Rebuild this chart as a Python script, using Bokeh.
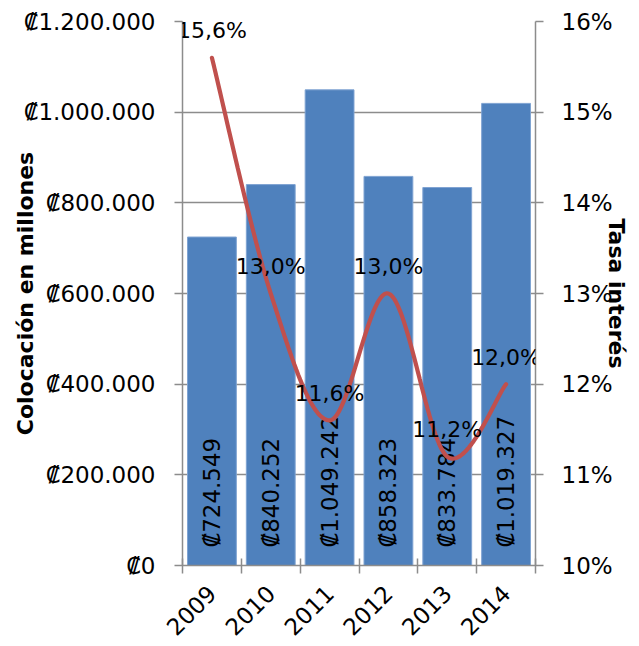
import math
from bokeh.plotting import figure
from bokeh.models import Range1d, LinearAxis, FixedTicker, ColumnDataSource, LabelSet
from bokeh.core.properties import value
from bokeh.embed import file_html
from bokeh.resources import INLINE

# ---- data ----
years = ["2009", "2010", "2011", "2012", "2013", "2014"]
colocacion = [724549, 840252, 1049242, 858323, 833784, 1019327]
tasa = [15.6, 13.0, 11.6, 13.0, 11.2, 12.0]
left_ticks = [0, 200000, 400000, 600000, 800000, 1000000, 1200000]
right_ticks = [10, 11, 12, 13, 14, 15, 16]

FONT = "DejaVu Sans"
FS = "23px"
FS_PCT = "22px"
FS_TITLE = "22px"
GRAY = "#8c8c8c"
BAR = "#4F81BD"
RED = "#C0504D"


def colon(v):
    return "\u20a1" + f"{v:,}".replace(",", ".")


def pct(v):
    return f"{v:.1f}".replace(".", ",") + "%"


xs = list(range(len(years)))

p = figure(width=639, height=646, output_backend="svg", toolbar_location=None,
           x_range=Range1d(-0.5, len(years) - 0.5), y_range=Range1d(0, 1200000),
           min_border_left=182, min_border_right=104, min_border_top=21,
           min_border_bottom=81)
p.outline_line_color = None
p.background_fill_color = "white"
p.border_fill_color = "white"
p.extra_y_ranges = {"rate": Range1d(10, 16)}

# grid
p.xgrid.visible = False
p.ygrid.ticker = FixedTicker(ticks=left_ticks)
p.ygrid.grid_line_color = GRAY
p.ygrid.grid_line_width = 1.5

# left axis
ya = p.yaxis[0]
ya.ticker = FixedTicker(ticks=left_ticks)
ya.major_label_overrides = {t: colon(t) for t in left_ticks}
ya.major_label_text_font = FONT
ya.major_label_text_font_size = FS
ya.major_label_text_color = "black"
ya.major_label_standoff = 19
ya.axis_line_color = GRAY
ya.axis_line_width = 1.5
ya.major_tick_line_color = GRAY
ya.major_tick_line_width = 1.5
ya.major_tick_in = 0
ya.major_tick_out = 8
ya.minor_tick_line_color = None
ya.axis_label = "Colocación en millones"
ya.axis_label_text_font = FONT
ya.axis_label_text_font_size = FS_TITLE
ya.axis_label_text_font_style = "bold"
ya.axis_label_text_color = "black"
ya.axis_label_standoff = -17

# right axis
ra = LinearAxis(y_range_name="rate", ticker=FixedTicker(ticks=right_ticks))
ra.major_label_overrides = {t: f"{t}%" for t in right_ticks}
ra.major_label_text_font = FONT
ra.major_label_text_font_size = FS
ra.major_label_text_color = "black"
ra.major_label_standoff = 18
ra.axis_line_color = GRAY
ra.axis_line_width = 1.5
ra.major_tick_line_color = GRAY
ra.major_tick_line_width = 1.5
ra.major_tick_in = 0
ra.major_tick_out = 8
ra.minor_tick_line_color = None
ra.axis_label = "Tasa interés"
ra.axis_label_text_font = FONT
ra.axis_label_text_font_size = FS_TITLE
ra.axis_label_text_font_style = "bold"
ra.axis_label_text_color = "black"
ra.axis_label_standoff = -12
p.add_layout(ra, "right")

# x axis: labels at category centres, tick marks at category boundaries
xa = p.xaxis[0]
xa.ticker = FixedTicker(ticks=xs, minor_ticks=[i - 0.5 for i in range(len(years) + 1)])
xa.major_label_overrides = {i: y for i, y in zip(xs, years)}
xa.major_label_orientation = math.pi / 4
xa.major_label_text_font = FONT
xa.major_label_text_font_size = FS
xa.major_label_text_color = "black"
xa.major_label_standoff = 16
xa.axis_line_color = GRAY
xa.axis_line_width = 1.5
xa.major_tick_line_color = None
xa.minor_tick_line_color = GRAY
xa.minor_tick_line_width = 1.5
xa.minor_tick_in = 7
xa.minor_tick_out = 8

# bars
src = ColumnDataSource(dict(x=xs, top=colocacion, lbl=[colon(v) for v in colocacion],
                            zero=[0] * len(xs)))
p.vbar(x="x", top="top", width=0.83, source=src, fill_color=BAR,
       line_color="#7FA3D2", line_width=1)
p.text(x="x", y="zero", text="lbl", source=src, angle=math.pi / 2,
       text_align="left", text_baseline="middle", y_offset=-18,
       text_font=value(FONT), text_font_size=value(FS), text_color="black")

# smoothed rate line (Bezier through the data points, like Excel smoothing)
pts = list(zip(xs, tasa))
cx, cy = [], []
n = len(pts)
for i in range(n - 1):
    p0 = pts[i - 1] if i > 0 else pts[i]
    p1 = pts[i]
    p2 = pts[i + 1]
    p3 = pts[i + 2] if i + 2 < n else pts[i + 1]
    c1 = (p1[0] + (p2[0] - p0[0]) / 6, p1[1] + (p2[1] - p0[1]) / 6)
    c2 = (p2[0] - (p3[0] - p1[0]) / 6, p2[1] - (p3[1] - p1[1]) / 6)
    steps = 30
    for k in range(steps + (1 if i == n - 2 else 0)):
        t = k / steps
        a = (1 - t) ** 3
        b = 3 * (1 - t) ** 2 * t
        c = 3 * (1 - t) * t ** 2
        d = t ** 3
        cx.append(a * p1[0] + b * c1[0] + c * c2[0] + d * p2[0])
        cy.append(a * p1[1] + b * c1[1] + c * c2[1] + d * p2[1])
p.line(cx, cy, y_range_name="rate", line_color=RED, line_width=4.2, line_cap="round")

rsrc = ColumnDataSource(dict(x=xs, y=tasa, lbl=[pct(v) for v in tasa]))
labels = LabelSet(x="x", y="y", text="lbl", source=rsrc, y_range_name="rate",
                  text_align="center", text_baseline="middle", y_offset=27,
                  text_font=value(FONT), text_font_size=value(FS_PCT),
                  text_color="black")
p.add_layout(labels)

open("out.html", "w").write(file_html(p, INLINE))
